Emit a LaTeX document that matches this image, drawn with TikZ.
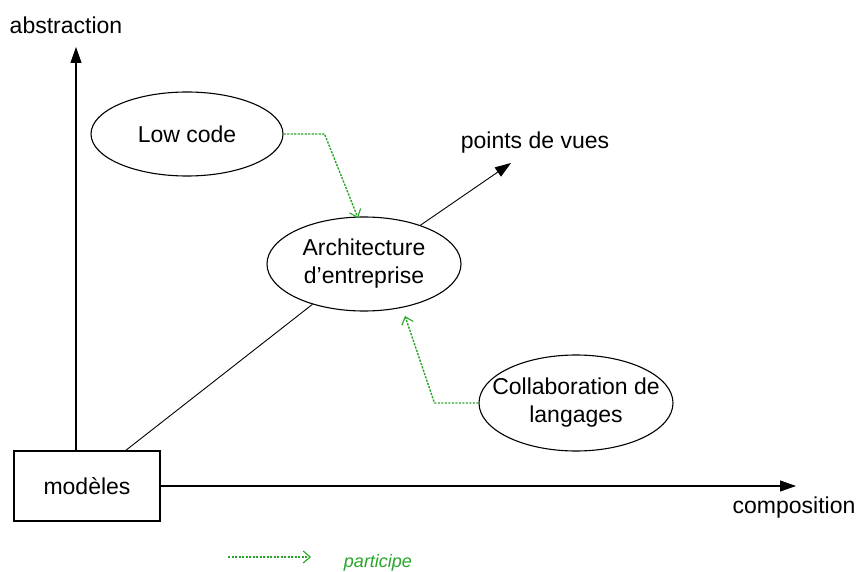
\documentclass[tikz,border=0pt]{standalone}
\usepackage{fontspec}
\setmainfont{Liberation Sans}
\usetikzlibrary{shapes.geometric,arrows.meta}
\definecolor{partgreen}{RGB}{40,165,40}
\begin{document}
\begin{tikzpicture}[x=1pt,y=-1pt,
  every node/.style={font=\fontsize{23}{28}\selectfont, text=black, inner sep=0pt},
  ell/.style={draw, ellipse, line width=1.1pt},
  inner/.style={align=center, font=\fontsize{23}{28}\selectfont},
  box/.style={draw, rectangle, line width=1.1pt, minimum width=146pt, minimum height=70pt},
  axis/.style={line width=1.1pt, -{Triangle[length=16pt,width=11pt]}},
  link/.style={line width=0.9pt},
  part/.style={draw=partgreen, line width=1.4pt, dash pattern=on 2.2pt off 1.3pt, -{Straight Barb[length=7pt,width=12pt,line width=1.1pt]}},
  lbl/.style={font=\fontsize{23}{28}\selectfont}
]
\useasboundingbox (0,0) rectangle (857,572);

\node[box] (m) at (87,486) {modèles};
\node[ell, minimum width=192pt, minimum height=84pt,
  label={[inner]center:Low code}] (low) at (187,134) {};
\node[ell, minimum width=194pt, minimum height=94pt,
  label={[inner]center:Architecture\\d’entreprise}] (arch) at (364,264) {};
\node[ell, minimum width=194pt, minimum height=96pt,
  label={[inner]center:Collaboration de\\langages}] (coll) at (576,403) {};

\node[lbl] (abs) at (66,25) {abstraction};
\node[lbl] (pvt) at (535,143) {points de vues};
\node[lbl] (comp) at (794,508) {composition};

\coordinate (ay) at (76,47);
\coordinate (ax) at (796,486);
\coordinate (d0) at (125,451);
\coordinate (pv) at (511,163);

\draw[axis] (m.north -| ay) -- (ay);
\draw[axis] (m.east) -- (ax);
\draw[link] (d0) -- (arch);
\draw[link, -{Triangle[length=16pt,width=11pt]}] (arch) -- (pv);

\coordinate (t1) at (358,218);
\coordinate (t2) at (405,316);
\draw[part] (low.east) -- ++(41,0) -- (t1);
\draw[part] (coll.west) -- ++(-44,0) -- (t2);

\coordinate (l1) at (228,557);
\coordinate (l2) at (311,557);
\draw[part] (l1) -- (l2);
\node[font=\fontsize{18}{21}\selectfont\itshape, text=partgreen] (legend) at (378,563) {participe};
\end{tikzpicture}
\end{document}
